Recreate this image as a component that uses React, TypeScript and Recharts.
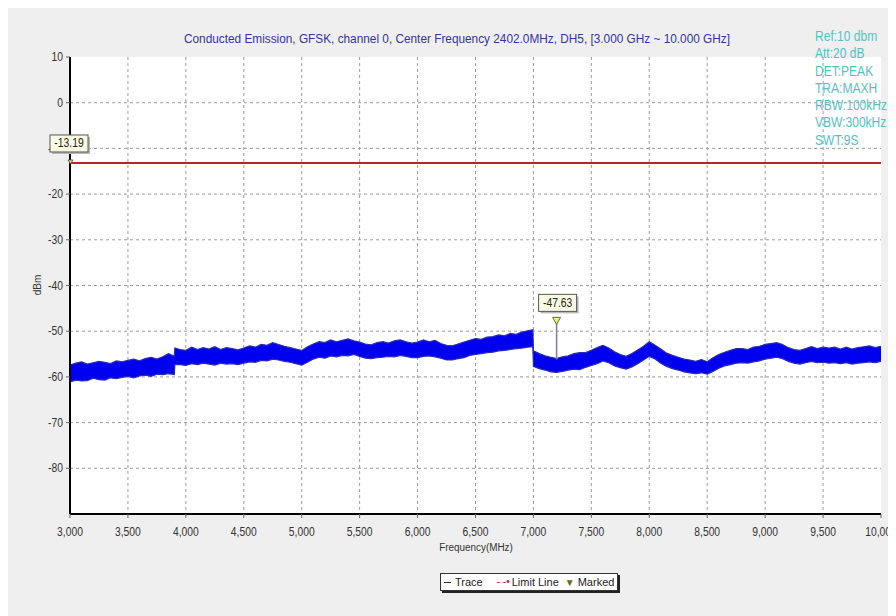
import React from "react";
import {
  ComposedChart,
  Area,
  XAxis,
  YAxis,
  CartesianGrid,
  ReferenceLine,
  ReferenceDot,
} from "recharts";

const xTicks = [3000, 3500, 4000, 4500, 5000, 5500, 6000, 6500, 7000, 7500, 8000, 8500, 9000, 9500, 10000];
const yTicks = [10, 0, -10, -20, -30, -40, -50, -60, -70, -80];

const infoLines = ["Ref:10 dbm", "Att:20 dB", "DET:PEAK", "TRA:MAXH", "RBW:100kHz", "VBW:300kHz", "SWT:9S"];

const limitLevel = -13.19;
const markerFreq = 7200;
const markerLevel = -47.63;
const markerFloor = -56.2;

// sample grid (MHz): 50 MHz steps plus the two jumps at ~3.9 GHz and ~7.0 GHz
function steps(from: number, to: number, step: number) {
  const out: number[] = [];
  for (let f = from; f <= to; f += step) out.push(f);
  return out;
}
const freqs = [...steps(3000, 3900, 50), 3905, ...steps(3950, 6950, 50), 6995, ...steps(7000, 10000, 50)];

// lower / upper edge of the noise band, dBm
const traceLow = [
  -61.1, -60.7, -60.9, -60.8, -60.3, -60.6, -60.7, -60.2, -60.4, -60.1, -59.9, -60.2, -59.8, -59.6, -59.9, -59.4, -59.5, -59.3, -59.5,
  -57.3,
  -57.3, -57.5, -57.1, -57.3, -57.0, -57.2, -57.4, -57.0, -57.2, -57.1, -57.3, -57.0, -56.7, -56.8, -56.4, -56.5, -56.1, -56.3, -56.6, -56.8,
  -57.1, -57.4, -56.8, -56.1, -55.7, -55.9, -55.4, -55.6, -55.3, -55.4, -55.1, -55.5, -55.9, -56.0, -55.8, -55.7, -55.5, -55.6, -55.3, -55.5,
  -55.8, -55.8, -55.5, -55.4, -55.6, -55.9, -56.3, -56.3, -56.0, -55.8, -55.3, -55.1, -54.9, -54.7, -54.6, -54.3, -54.2, -54.0, -53.8, -53.7,
  -53.5,
  -53.4,
  -57.7, -58.2, -58.5, -58.9, -59.0, -58.8, -58.5, -58.3, -58.4, -57.9, -57.5, -57.1, -56.5, -56.9, -57.6, -58.0, -58.3, -57.8, -57.1, -56.3,
  -55.5, -56.1, -57.0, -57.7, -58.2, -58.5, -58.9, -59.1, -59.3, -59.1, -59.4, -58.8, -58.1, -57.6, -57.3, -57.0, -56.9, -57.0, -56.7, -56.5,
  -56.1, -55.9, -55.7, -56.0, -56.6, -57.0, -57.2, -56.9, -56.6, -56.9, -56.8, -57.0, -56.9, -57.1, -56.9, -57.2, -57.0, -56.9, -56.7, -56.9,
  -56.6,
];
const traceHigh = [
  -57.4, -57.0, -56.7, -57.2, -56.9, -56.6, -56.8, -57.1, -56.5, -56.7, -56.4, -56.1, -56.5, -56.0, -55.7, -56.1, -55.6, -54.9, -55.5,
  -53.7,
  -54.0, -54.2, -53.5, -54.0, -53.6, -53.9, -53.4, -54.0, -53.6, -53.8, -54.1, -53.7, -53.2, -53.5, -52.9, -53.1, -52.5, -52.9, -53.3, -53.6,
  -53.9, -54.2, -53.4, -52.8, -52.3, -52.5, -51.9, -52.3, -52.0, -51.7, -52.1, -52.4, -52.8, -53.0, -52.5, -52.3, -52.6, -52.1, -51.9, -52.3,
  -52.6, -52.4, -51.9, -52.3, -52.0, -52.7, -53.1, -53.2, -52.8, -52.4, -52.0, -51.6, -51.8, -51.3, -51.2, -50.8, -51.0, -50.5, -50.7, -50.2,
  -49.9,
  -49.7,
  -54.3, -54.9, -55.4, -55.7, -56.0, -55.6, -55.4, -54.9, -54.7, -54.7, -54.2, -53.6, -53.1, -53.7, -54.5, -55.1, -55.5, -54.9, -54.1, -53.3,
  -52.3, -53.1, -53.9, -54.8, -55.3, -55.7, -56.1, -56.3, -56.6, -56.2, -56.7, -55.8, -55.1, -54.6, -54.2, -53.8, -53.8, -54.0, -53.5, -53.3,
  -52.9, -52.7, -52.5, -52.9, -53.6, -54.0, -54.2, -53.8, -53.4, -53.8, -53.5, -53.7, -53.5, -53.9, -53.5, -53.9, -53.6, -53.4, -53.2, -53.6,
  -53.3,
];

const data = freqs.map((f, i) => ({ freq: f, band: [traceLow[i], traceHigh[i]] }));

const FONT = "'Liberation Sans', Arial, sans-serif";

const narrow = (x: number, k: number) => `translate(${x},0) scale(${k},1) translate(${-x},0)`;

const XTick = (p: any) => {
  const { x, y, payload } = p;
  return (
    <text x={x} y={y} dy="0.71em" textAnchor="middle" fontSize={12} fill="#333" fontFamily={FONT} transform={narrow(x, 0.86)}>
      {Number(payload.value).toLocaleString("en-US")}
    </text>
  );
};

const YTick = (p: any) => {
  const { x, y, payload } = p;
  return (
    <text x={x} y={y} dy="0.35em" textAnchor="end" fontSize={12} fill="#333" fontFamily={FONT} transform={narrow(x, 0.86)}>
      {payload.value}
    </text>
  );
};

const MarkerFlag = (props: any) => {
  const { cx, cy, text, dx = 0, dy = -24, small } = props;
  if (cx == null || cy == null) return null;
  const bx = cx + dx;
  const by = cy + dy;
  return (
    <g>
      {small ? (
        <path d={`M${cx - 2},${cy - 3} L${cx + 3},${cy - 3} L${cx + 0.5},${cy + 1} Z`} fill="#e8e070" stroke="#444" strokeWidth={0.8} />
      ) : (
        <path d={`M${cx - 4},${cy - 3} L${cx + 4},${cy - 3} L${cx},${cy + 4} Z`} fill="#f4f070" stroke="#6b6b3a" strokeWidth={1} />
      )}
      <rect x={bx + 2} y={by + 2} width={38} height={17} fill="#b8b8b8" />
      <rect x={bx} y={by} width={38} height={17} fill="#fbfbe4" stroke="#555" strokeWidth={1} />
      <text x={bx + 19} y={by + 12.5} textAnchor="middle" fontSize={12} fill="#222" fontFamily={FONT} transform={narrow(bx + 19, 0.86)}>
        {text}
      </text>
    </g>
  );
};

export default function App() {
  return (
    <div style={{ position: "relative", width: 888, height: 608, background: "#efefef" }}>
      <ComposedChart
        width={888}
        height={608}
        data={data}
        margin={{ top: 49, right: 15, bottom: 62, left: 0 }}
      >
        <CartesianGrid
          fill="#ffffff"
          stroke="#9a9a9a"
          strokeDasharray="3 3"
          horizontalValues={yTicks.slice(1)}
          verticalValues={xTicks.slice(1, -1)}
        />
        <XAxis
          dataKey="freq"
          type="number"
          domain={[3000, 10000]}
          ticks={xTicks}
          interval={0}
          height={40}
          axisLine={{ stroke: "#000", strokeWidth: 2 }}
          tickLine={{ stroke: "#666" }}
          tickSize={4}
          tickMargin={9}
          tick={<XTick />}
          allowDataOverflow
        />
        <YAxis
          type="number"
          domain={[-90, 10]}
          ticks={yTicks}
          interval={0}
          width={62}
          axisLine={{ stroke: "#000", strokeWidth: 2 }}
          tickLine={{ stroke: "#666" }}
          tickSize={4}
          tickMargin={3}
          tick={<YTick />}
          allowDataOverflow
        />
        <Area
          dataKey="band"
          type="linear"
          stroke="#2a2ab4"
          strokeWidth={1.2}
          fill="#0000f0"
          fillOpacity={1}
          dot={false}
          activeDot={false}
          isAnimationActive={false}
        />
        <ReferenceLine y={limitLevel} stroke="#b02828" strokeWidth={2} ifOverflow="visible" />
        <ReferenceLine
          segment={[
            { x: markerFreq, y: markerLevel },
            { x: markerFreq, y: markerFloor },
          ]}
          stroke="#7c7ca6"
          strokeWidth={1.5}
        />
        <ReferenceDot
          x={markerFreq}
          y={markerLevel}
          ifOverflow="visible"
          zIndex={2000}
          shape={(p: any) => <MarkerFlag {...p} text={markerLevel.toFixed(2)} dx={-18} dy={-26} />}
        />
        <ReferenceDot
          x={3000}
          y={limitLevel}
          ifOverflow="visible"
          zIndex={2000}
          shape={(p: any) => <MarkerFlag {...p} text={limitLevel.toFixed(2)} dx={-20} dy={-28} small />}
        />
        <text x={449} y={35} textAnchor="middle" fontSize={12.5} fill="#3434a0" fontFamily={FONT} textLength={546} lengthAdjust="spacingAndGlyphs">
          Conducted Emission, GFSK, channel 0, Center Frequency 2402.0MHz, DH5, [3.000 GHz ~ 10.000 GHz]
        </text>
        <g transform="translate(807,0) scale(0.86,1)">
          {infoLines.map((s, i) => (
            <text key={s} x={0} y={33 + i * 17.3} fontSize={14} fill="#55c2c2" fontFamily={FONT}>
              {s}
            </text>
          ))}
        </g>
        <text x={468} y={543} textAnchor="middle" fontSize={11} fill="#333" fontFamily={FONT} transform={narrow(468, 0.9)}>
          Frequency(MHz)
        </text>
        <text x={33} y={277} textAnchor="middle" fontSize={10} fill="#333" fontFamily={FONT} transform="rotate(-90 33 277)">
          dBm
        </text>
      </ComposedChart>
      <div
        style={{
          position: "absolute",
          left: 432,
          top: 565,
          width: 176,
          height: 16,
          background: "#fff",
          border: "1px solid #333",
          boxShadow: "2px 2px 0 #222",
          fontFamily: FONT,
          fontSize: 11,
          color: "#222",
          display: "flex",
          alignItems: "center",
          whiteSpace: "nowrap",
        }}
      >
        <span style={{ display: "inline-block", width: 7, height: 0, borderTop: "1px solid #222266", marginLeft: 3, marginRight: 4 }} />
        <span>Trace</span>
        <span style={{ display: "inline-block", width: 12, marginLeft: 14, marginRight: 3, color: "#c02020", fontSize: 10, lineHeight: "10px" }}>- -•</span>
        <span>Limit Line</span>
        <span style={{ marginLeft: 6, marginRight: 3, color: "#6b6b20", fontSize: 10 }}>▼</span>
        <span>Marked</span>
      </div>
    </div>
  );
}
